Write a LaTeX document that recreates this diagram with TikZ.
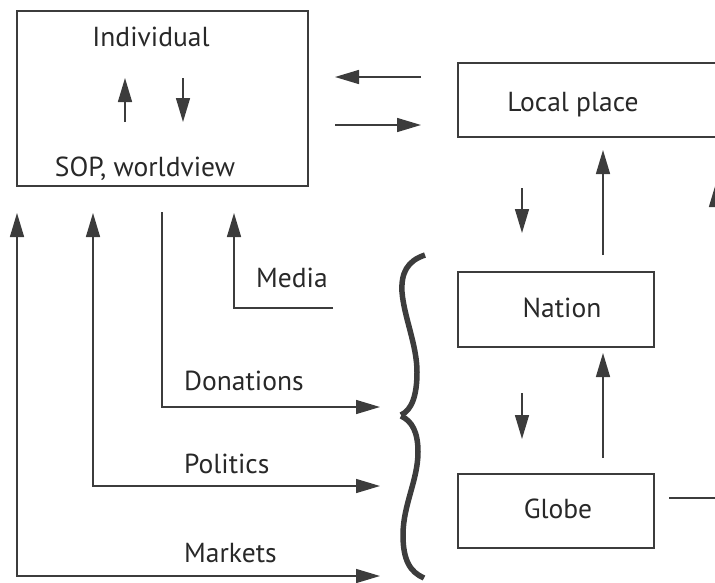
\documentclass[tikz,border=0pt]{standalone}
\usepackage{fontspec}
\setmainfont{PT Sans}
\usetikzlibrary{arrows.meta}
\definecolor{ink}{RGB}{60,60,60}
\definecolor{txt}{RGB}{40,40,40}
\begin{document}
\begin{tikzpicture}[x=1pt,y=-1pt,
  box/.style={draw=ink, line width=1.5pt, rectangle, inner sep=0pt},
  lbl/.style={text=txt, font=\fontsize{27.5}{32}\selectfont, anchor=base, inner sep=0pt},
  lblw/.style={lbl, anchor=base west},
  conn/.style={draw=ink, line width=1.5pt, -{Triangle[length=24pt,width=14pt]}},
  conn2/.style={draw=ink, line width=1.5pt, {Triangle[length=24pt,width=14pt]}-{Triangle[length=24pt,width=14pt]}},
  brace/.style={draw=ink, line width=5.5pt}]
\useasboundingbox (0,0) rectangle (715,582);
\clip (0,0) rectangle (715,582);

% boxes
\node[box, minimum width=291pt, minimum height=175pt] (ind) at (162.5,98.5) {};
\node[box, minimum width=320pt, minimum height=74pt] (loc) at (618,100) {};
\node[box, minimum width=196pt, minimum height=75pt] (nat) at (556,309.5) {};
\node[box, minimum width=196pt, minimum height=74pt] (glo) at (556,511) {};

% texts
\node[lbl] (tind) at (151,46) {Individual};
\node[lbl] (tsop) at (145,176) {SOP, worldview};
\node[lbl] (tloc) at (573,111) {Local place};
\node[lbl] (tnat) at (562,317) {Nation};
\node[lbl] (tglo) at (558,518) {Globe};
\node[lblw] (tmed) at (256,287) {Media};
\node[lblw] (tdon) at (184,390) {Donations};
\node[lblw] (tpol) at (184,473) {Politics};
\node[lblw] (tmar) at (184,562) {Markets};

% inner arrows of the individual box
\coordinate (ia1) at (125,122); \coordinate (ia2) at (125,78);
\coordinate (ib1) at (183,78);  \coordinate (ib2) at (183,122);
\draw[conn] (ia1) -- (ia2);
\draw[conn] (ib1) -- (ib2);

% individual <-> local place
\coordinate (la1) at (421,77);  \coordinate (la2) at (335,77);
\coordinate (lb1) at (335,125); \coordinate (lb2) at (421,125);
\draw[conn] (la1) -- (la2);
\draw[conn] (lb1) -- (lb2);

% local place <-> nation
\coordinate (na1) at (522,188); \coordinate (na2) at (522,233);
\coordinate (nb1) at (603,255); \coordinate (nb2) at (603,150);
\draw[conn] (na1) -- (na2);
\draw[conn] (nb1) -- (nb2);

% nation <-> globe
\coordinate (ga1) at (522,393); \coordinate (ga2) at (522,439);
\coordinate (gb1) at (603,458); \coordinate (gb2) at (603,353);
\draw[conn] (ga1) -- (ga2);
\draw[conn] (gb1) -- (gb2);

% globe -> local place around the right
\coordinate (r1) at (669,498); \coordinate (r2) at (716,498); \coordinate (r3) at (716,183);
\draw[conn] (r1) -- (r2) -- (r3);

% channels on the left
\coordinate (mk1) at (17,213);  \coordinate (mk2) at (380,576);
\coordinate (po1) at (93,213);  \coordinate (po2) at (380,486);
\coordinate (do1) at (162,212); \coordinate (do2) at (380,407);
\coordinate (me1) at (333,308); \coordinate (me2) at (234,213);
\draw[conn2] (mk1) |- (mk2);
\draw[conn2] (po1) |- (po2);
\draw[conn] (do1) |- (do2);
\draw[conn] (me1) -| (me2);

% braces
\draw[brace] (425,255) .. controls (407,261) and (401,273) .. (402,292)
  .. controls (404,317) and (417,345) .. (417,372)
  .. controls (417,395) and (412,410) .. (401,415);
\draw[brace] (401,416) .. controls (412,421) and (418,432) .. (418,452)
  .. controls (418,480) and (403,505) .. (403,535)
  .. controls (403,560) and (410,572) .. (424,578);
\end{tikzpicture}
\end{document}
